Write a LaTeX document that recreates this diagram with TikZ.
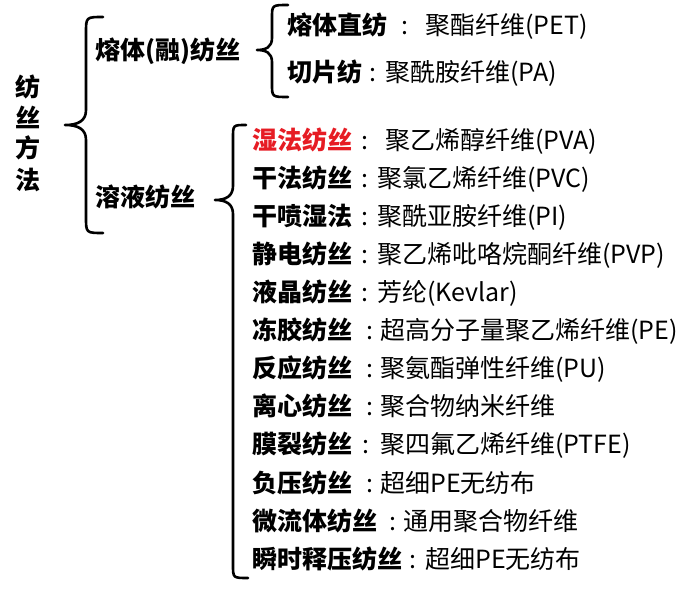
\documentclass[tikz,border=0pt]{standalone}
\usepackage{fontspec}
\setmainfont{Noto Sans CJK SC}
\definecolor{hotred}{RGB}{230,28,36}
\tikzset{
  lbl/.style={anchor=base west, inner sep=0pt, font=\fontsize{25}{25}\selectfont\bfseries},
  desc/.style={anchor=base west, inner sep=0pt, font=\fontsize{25}{25}\selectfont},
  colon/.style={anchor=base, inner sep=0pt, font=\fontsize{25}{25}\selectfont},
  vchar/.style={anchor=base, inner sep=0pt, font=\fontsize{25}{25}\selectfont\bfseries},
  bracestyle/.style={draw=black, line width=2.6pt, line cap=round, line join=round}
}
\begin{document}
\begin{tikzpicture}[x=1pt,y=-1pt]
\useasboundingbox (0,0) rectangle (695,591);
% root vertical
\node[vchar] (r1) at (28,96.5) {纺};
\node[vchar] (r2) at (28,127.5) {丝};
\node[vchar] (r3) at (28,157.5) {方};
\node[vchar] (r4) at (28,189.5) {法};
% braces
\draw[bracestyle] (103,17) .. controls (86,17) .. (86,33) -- (86,110)
  .. controls (86,121) and (78,125) .. (65,125)
  .. controls (78,125) and (86,129) .. (86,140) -- (86,217) .. controls (86,233) .. (103,233);
\draw[bracestyle] (288,5) .. controls (272,5) .. (272,18) -- (272,38)
  .. controls (272,47) and (266,50) .. (257,50)
  .. controls (266,50) and (272,53) .. (272,62) -- (272,84) .. controls (272,97) .. (288,97);
\draw[bracestyle] (246,125) .. controls (233,125) .. (233,138) -- (233,186)
  .. controls (233,196) and (226,200) .. (215,200)
  .. controls (226,200) and (233,204) .. (233,214) -- (233,565) .. controls (233,578) .. (248,578);
% level 1
\node[lbl] (melt) at (95,59.5) {熔体(融)纺丝};
\node[lbl] (sol) at (95,206.5) {溶液纺丝};
% melt children
\node[lbl] (m1) at (287,34.5) {熔体直纺};
\node[colon] (m1c) at (405,34.5) {:};
\node[desc] (m1d) at (425,34.5) {聚酯纤维(PET)};
\node[lbl] (m2) at (287,81.5) {切片纺};
\node[colon] (m2c) at (373,81.5) {:};
\node[desc] (m2d) at (385,81.5) {聚酰胺纤维(PA)};
% solution children
\node[lbl, text=hotred] (s1) at (252,149.5) {湿法纺丝};
\node[colon] (s1c) at (365,149.5) {:};
\node[desc] (s1d) at (385,149.5) {聚乙烯醇纤维(PVA)};
\node[lbl] (s2) at (252,187.5) {干法纺丝};
\node[colon] (s2c) at (365,187.5) {:};
\node[desc] (s2d) at (377,187.5) {聚氯乙烯纤维(PVC)};
\node[lbl] (s3) at (252,225.5) {干喷湿法};
\node[colon] (s3c) at (365,225.5) {:};
\node[desc] (s3d) at (377,225.5) {聚酰亚胺纤维(PI)};
\node[lbl] (s4) at (252,263.5) {静电纺丝};
\node[colon] (s4c) at (365,263.5) {:};
\node[desc] (s4d) at (377,263.5) {聚乙烯吡咯烷酮纤维(PVP)};
\node[lbl] (s5) at (252,301.5) {液晶纺丝};
\node[colon] (s5c) at (365,301.5) {:};
\node[desc] (s5d) at (377,301.5) {芳纶(Kevlar)};
\node[lbl] (s6) at (252,339.5) {冻胶纺丝};
\node[colon] (s6c) at (370,339.5) {:};
\node[desc] (s6d) at (380,339.5) {超高分子量聚乙烯纤维(PE)};
\node[lbl] (s7) at (252,377.5) {反应纺丝};
\node[colon] (s7c) at (370,377.5) {:};
\node[desc] (s7d) at (380,377.5) {聚氨酯弹性纤维(PU)};
\node[lbl] (s8) at (252,415.5) {离心纺丝};
\node[colon] (s8c) at (370,415.5) {:};
\node[desc] (s8d) at (380,415.5) {聚合物纳米纤维};
\node[lbl] (s9) at (252,453.5) {膜裂纺丝};
\node[colon] (s9c) at (366,453.5) {:};
\node[desc] (s9d) at (380,453.5) {聚四氟乙烯纤维(PTFE)};
\node[lbl] (s10) at (252,492.5) {负压纺丝};
\node[colon] (s10c) at (370,492.5) {:};
\node[desc] (s10d) at (380,492.5) {超细PE无纺布};
\node[lbl] (s11) at (252,530.5) {微流体纺丝};
\node[colon] (s11c) at (393,530.5) {:};
\node[desc] (s11d) at (403,530.5) {通用聚合物纤维};
\node[lbl] (s12) at (252,568.5) {瞬时释压纺丝};
\node[colon] (s12c) at (413,568.5) {:};
\node[desc] (s12d) at (425,568.5) {超细PE无纺布};
\end{tikzpicture}
\end{document}
